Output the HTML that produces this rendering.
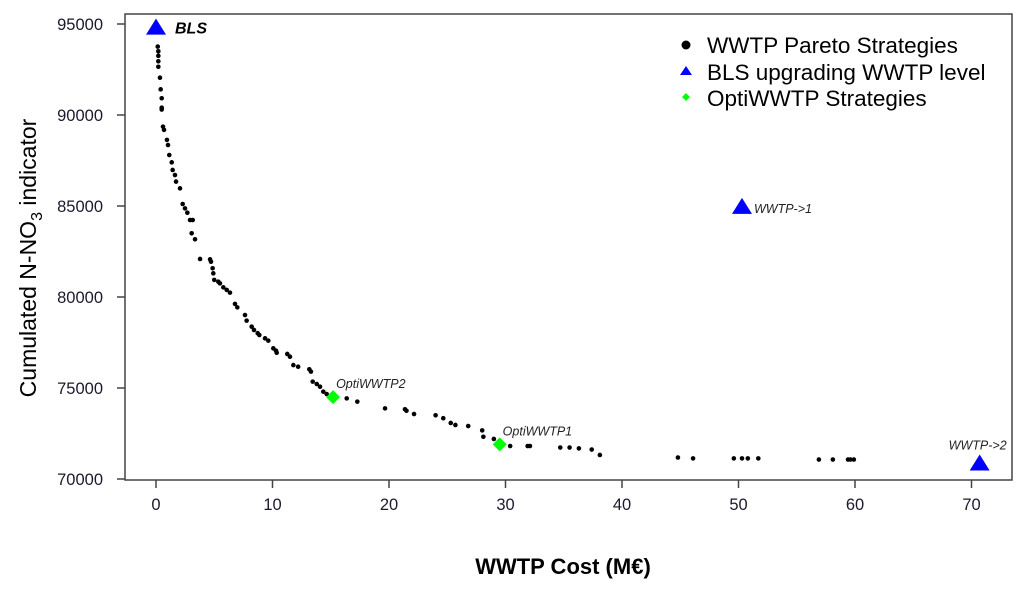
<!DOCTYPE html>
<html><head><meta charset="utf-8"><style>
body{margin:0;background:#fff;}
svg{display:block;font-family:"Liberation Sans",Arial,sans-serif;}
</style></head><body>
<svg id="chart" width="1024" height="591" viewBox="0 0 1024 591">
<rect x="125" y="14" width="887" height="466" fill="none" stroke="#444" stroke-width="1.5"/>
<g id="axes"></g>
<g id="marks"></g>
<text transform="translate(36,258) rotate(-90)" text-anchor="middle" font-size="23" fill="#000">Cumulated N-NO<tspan font-size="16" dy="6">3</tspan><tspan dy="-6"> indicator</tspan></text>
<text x="563" y="574" text-anchor="middle" font-size="22" font-weight="bold" fill="#000">WWTP Cost (M€)</text>
<g>
<circle cx="686" cy="45" r="4.5" fill="#000"/>
<text x="707" y="53" font-size="22.5" fill="#000">WWTP Pareto Strategies</text>
<polygon points="686,66 680,75 692,75" fill="#00f"/>
<text x="707" y="80" font-size="22.5" fill="#000">BLS upgrading WWTP level</text>
<polygon points="686,93 690,97 686,101 682,97" fill="#0f0"/>
<text x="707" y="106" font-size="22.5" fill="#000">OptiWWTP Strategies</text>
</g>
</svg>
<script>
const xTicks=[0,10,20,30,40,50,60,70];
const yTicks=[70000,75000,80000,85000,90000,95000];
const paretoX=[0.15,0.2,0.2,0.2,0.2,0.34,0.4,0.49,0.49,0.49,0.6,0.69,0.94,1.03,1.14,1.35,1.43,1.63,1.72,2.06,2.29,2.49,2.69,2.92,3.15,3.06,3.35,3.78,4.64,4.72,4.86,4.92,5.0,5.35,5.49,5.78,6.07,6.35,6.78,6.98,7.64,7.78,8.21,8.41,8.73,8.87,9.36,9.64,10.07,10.3,10.36,11.27,11.5,11.79,12.2,13.16,13.3,13.45,13.8,14.08,14.36,14.65,16.37,17.28,19.66,21.37,21.5,22.15,24.0,24.66,25.3,25.7,26.8,28.0,28.1,29.0,30.4,31.9,32.1,34.7,35.5,36.3,37.4,38.1,44.8,46.1,49.6,50.3,50.8,51.7,56.9,58.1,59.4,59.6,59.9];
const paretoY=[93760,93500,93250,92950,92650,92050,91410,90920,90400,90300,89360,89180,88630,88350,87800,87400,86980,86700,86340,85970,85110,84870,84630,84230,84230,83500,83170,82090,82070,81940,81580,81300,80940,80840,80750,80530,80390,80240,79620,79430,79010,78700,78370,78190,78010,77910,77730,77600,77180,77050,76940,76870,76720,76260,76170,76030,75900,75350,75220,75070,74800,74670,74430,74250,73880,73830,73750,73570,73500,73340,73080,72970,72910,72670,72320,72200,71810,71810,71810,71730,71730,71680,71620,71320,71180,71130,71130,71130,71130,71130,71070,71070,71070,71070,71070];
const blsX=[0,50.3,70.7];
const blsY=[94800,84950,70850];
const blsLabels=["BLS","WWTP->1","WWTP->2"];
const optiX=[29.5,15.2];
const optiY=[71900,74500];
const optiLabels=["OptiWWTP1","OptiWWTP2"];

const NS="http://www.w3.org/2000/svg";
const xs=v=>156+v*11.65;
const ys=v=>479-(v-70000)/5000*91;
function mk(tag,attrs,parent){const e=document.createElementNS(NS,tag);for(const k in attrs)e.setAttribute(k,attrs[k]);parent.appendChild(e);return e;}
const axes=document.getElementById('axes'),marks=document.getElementById('marks');
xTicks.forEach(t=>{
  const l=mk('line',{x1:xs(t),x2:xs(t),y1:480,y2:488,stroke:'#444','stroke-width':1.5},axes);
  
  
  const tx=mk('text',{x:xs(t),y:510,'text-anchor':'middle','font-size':16.5,fill:'#1a1a2e'},axes);
  tx.textContent=t;
  
  
});
yTicks.forEach(t=>{
  const l=mk('line',{x1:117,x2:125,y1:ys(t),y2:ys(t),stroke:'#444','stroke-width':1.5},axes);
  
  
  const tx=mk('text',{x:103,y:ys(t)+6,'text-anchor':'end','font-size':16.5,fill:'#1a1a2e'},axes);
  tx.textContent=t;
  
  
});
paretoX.forEach((x,i)=>{
  const c=mk('circle',{cx:xs(x),cy:ys(paretoY[i]),r:2.3,fill:'#000'},marks);
  
  
});
optiX.forEach((x,i)=>{
  const cx=xs(x),cy=ys(optiY[i]);
  const p=mk('polygon',{points:`${cx},${cy-7} ${cx+7},${cy} ${cx},${cy+7} ${cx-7},${cy}`,fill:'#0f0'},marks);
  
  
  const t=mk('text',{x:cx+3,y:cy-9,'font-size':12.5,'font-style':'italic',fill:'#222'},marks);
  t.textContent=optiLabels[i];
  
  
});
blsX.forEach((x,i)=>{
  const cx=xs(x),cy=ys(blsY[i]);
  const p=mk('polygon',{points:`${cx},${cy-9} ${cx-10},${cy+7} ${cx+10},${cy+7}`,fill:'#00f'},marks);
  
  
  let attrs;
  if(i===0) attrs={x:cx+19,y:cy+6,'font-size':16,'font-weight':'bold','font-style':'italic',fill:'#000'};
  else if(i===1) attrs={x:cx+12,y:cy+6,'font-size':12.5,'font-style':'italic',fill:'#222'};
  else attrs={x:cx-2,y:cy-14,'font-size':12.5,'font-style':'italic',fill:'#222','text-anchor':'middle'};
  const t=mk('text',attrs,marks);
  t.textContent=blsLabels[i];
  
  
});
</script>
</body></html>
